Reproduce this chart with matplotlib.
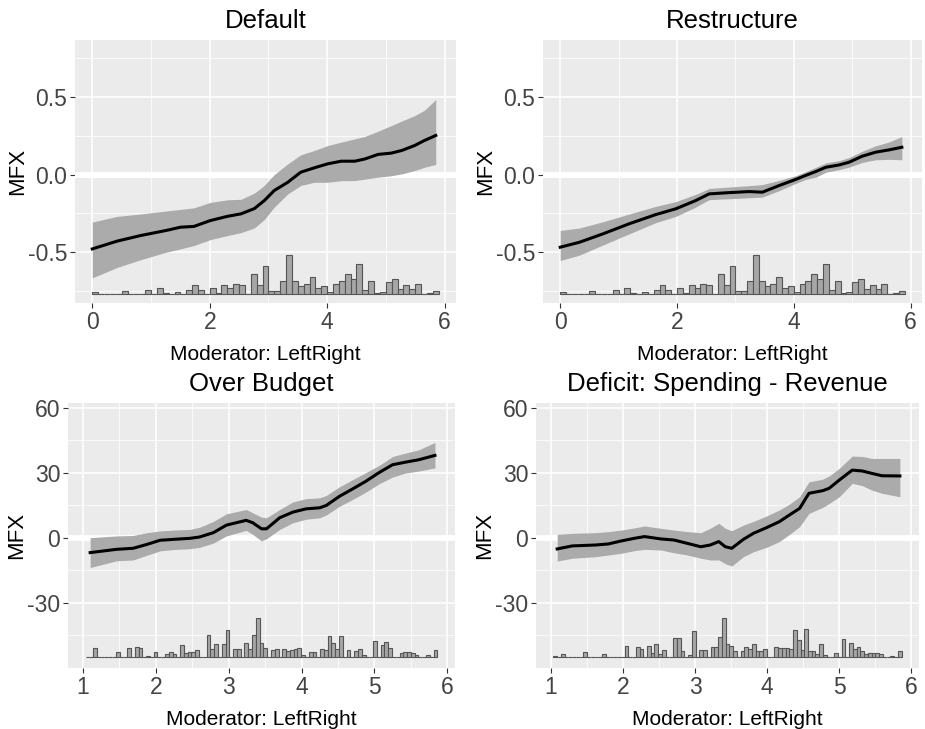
import matplotlib.pyplot as plt
import numpy as np

plt.rcParams['font.family'] = ['Liberation Sans', 'DejaVu Sans']
plt.rcParams['axes.unicode_minus'] = False

# ---------------- data ----------------
# Default
def_x = [0.0, 0.42, 0.82, 1.27, 1.5, 1.73, 2.01, 2.3, 2.53, 2.76, 2.93, 3.1, 3.33, 3.55,
         3.78, 4.01, 4.24, 4.47, 4.64, 4.87, 5.09, 5.27, 5.49, 5.66, 5.85]
def_mfx = [-0.48, -0.43, -0.394, -0.36, -0.34, -0.335, -0.297, -0.27, -0.254, -0.22, -0.168,
           -0.103, -0.05, 0.015, 0.043, 0.069, 0.086, 0.086, 0.10, 0.13, 0.138, 0.155, 0.187,
           0.22, 0.252]
def_hi = [-0.307, -0.27, -0.255, -0.235, -0.225, -0.215, -0.18, -0.163, -0.16, -0.12, -0.07,
          0.0, 0.069, 0.127, 0.155, 0.187, 0.209, 0.23, 0.245, 0.28, 0.315, 0.345, 0.38,
          0.415, 0.484]
def_lo = [-0.667, -0.60, -0.55, -0.50, -0.48, -0.458, -0.42, -0.394, -0.375, -0.345, -0.29,
          -0.21, -0.125, -0.071, -0.05, -0.05, -0.04, -0.039, -0.03, -0.017, -0.008, 0.004,
          0.026, 0.047, 0.065]

# Restructure
res_x = [0.0, 0.33, 0.73, 1.18, 1.64, 1.98, 2.32, 2.55, 2.84, 3.23, 3.46, 3.75, 4.03, 4.2,
         4.38, 4.55, 4.78, 4.95, 5.17, 5.4, 5.63, 5.85]
res_mfx = [-0.469, -0.437, -0.383, -0.318, -0.258, -0.221, -0.168, -0.125, -0.118, -0.11,
           -0.114, -0.071, -0.032, -0.006, 0.02, 0.047, 0.062, 0.08, 0.118, 0.144, 0.159, 0.176]
res_hi = [-0.361, -0.345, -0.305, -0.255, -0.205, -0.175, -0.128, -0.09, -0.082, -0.072,
          -0.065, -0.038, -0.008, 0.018, 0.047, 0.075, 0.09, 0.11, 0.15, 0.185, 0.21, 0.245]
res_lo = [-0.555, -0.52, -0.455, -0.383, -0.31, -0.27, -0.21, -0.162, -0.157, -0.15,
          -0.146, -0.104, -0.058, -0.032, -0.017, 0.015, 0.032, 0.048, 0.078, 0.095, 0.098, 0.095]

# Over Budget
ob_x = [1.1, 1.46, 1.69, 1.88, 2.06, 2.24, 2.47, 2.6, 2.79, 2.97, 3.24, 3.33, 3.45, 3.52,
        3.7, 3.88, 4.06, 4.25, 4.34, 4.52, 4.7, 4.88, 5.07, 5.25, 5.43, 5.61, 5.83]
ob_mfx = [-6.9, -5.4, -4.9, -3.1, -1.2, -0.8, -0.3, 0.3, 2.3, 5.8, 8.0, 6.9, 4.1, 4.1, 9.2,
          11.8, 13.3, 13.8, 14.9, 19.1, 22.5, 26.0, 30.2, 33.7, 34.9, 36.0, 38.0]
ob_hi = [0.0, 0.8, 1.0, 2.3, 3.1, 3.5, 3.8, 4.8, 7.5, 11.0, 13.0, 11.5, 9.5, 9.2, 13.0,
         16.5, 18.0, 18.4, 19.5, 23.5, 26.8, 30.0, 33.5, 37.5, 39.1, 40.6, 44.0]
ob_lo = [-13.8, -10.7, -10.3, -8.1, -6.1, -5.5, -5.1, -4.5, -2.5, 0.8, 3.4, 1.5, -1.5, -0.5,
         3.8, 6.9, 8.5, 9.2, 10.5, 14.5, 17.6, 21.0, 25.0, 28.0, 29.9, 30.8, 32.2]

# Deficit: Spending - Revenue
dv_x = [1.09, 1.3, 1.62, 1.8, 1.98, 2.16, 2.3, 2.53, 2.71, 2.89, 3.08, 3.21, 3.33, 3.42,
        3.51, 3.67, 3.81, 3.99, 4.17, 4.31, 4.45, 4.58, 4.77, 4.86, 5.0, 5.18, 5.32, 5.45,
        5.59, 5.84]
dv_mfx = [-5.2, -3.8, -3.4, -2.9, -1.5, -0.3, 0.5, -0.6, -1.1, -2.6, -4.2, -3.4, -1.8, -4.2,
          -4.9, -0.8, 2.0, 4.6, 7.4, 10.5, 13.5, 20.5, 21.7, 22.8, 26.6, 31.2, 30.8, 29.7,
          28.6, 28.5]
dv_hi = [1.5, 2.0, 2.3, 2.8, 3.5, 4.5, 5.4, 4.3, 3.5, 2.8, 2.3, 4.3, 6.6, 4.3, 3.2, 5.8, 7.5,
         10.0, 12.8, 15.5, 18.9, 25.8, 27.0, 28.5, 32.0, 37.7, 37.5, 36.6, 36.6, 36.6]
dv_lo = [-10.8, -9.5, -8.8, -8.0, -7.2, -6.0, -5.4, -5.7, -7.0, -8.0, -9.5, -10.3, -10.3,
         -12.0, -13.1, -8.8, -6.5, -4.5, -1.8, 1.5, 5.1, 11.2, 14.0, 15.8, 18.9, 25.1, 24.0,
         22.0, 20.5, 18.9]

# histogram of the moderator (counts in arbitrary units), top row
top_hist = [6, 0, 0, 0, 0, 8, 0, 0, 0, 10, 0, 15, 2, 0, 5, 0, 10, 25, 11, 0,
            15, 3, 25, 15, 29, 26, 0, 59, 25, 80, 8, 8, 36, 113, 38, 23, 29, 48, 16, 21,
            6, 29, 36, 57, 43, 86, 11, 36, 2, 5, 33, 43, 12, 26, 12, 29, 0, 2, 8]
top_bin_start = 0.0
top_bin_width = 0.1

# bottom row histograms
ob_hist = [0, 0, 24, 0, 0, 0, 0, 0, 14, 0, 0, 24, 0, 29, 26, 0, 3, 0, 13, 0,
           0, 8, 12, 8, 0, 35, 9, 13, 13, 20, 0, 0, 63, 21, 36, 0, 36, 78, 0, 21,
           21, 0, 41, 21, 63, 114, 40, 26, 0, 18, 22, 0, 22, 16, 20, 23, 26, 4, 0, 14,
           14, 0, 22, 18, 60, 39, 23, 60, 0, 18, 0, 16, 22, 4, 0, 0, 46, 0, 34, 44,
           26, 0, 0, 10, 13, 13, 10, 5, 0, 0, 5, 0, 19]
dv_hist = [2, 0, 8, 0, 0, 0, 0, 0, 14, 0, 0, 0, 0, 7, 0, 0, 0, 0, 0, 30,
           0, 0, 28, 22, 0, 32, 10, 38, 6, 18, 0, 0, 56, 54, 17, 0, 4, 75, 0, 19,
           19, 0, 27, 27, 57, 113, 38, 32, 17, 0, 15, 27, 22, 38, 15, 17, 22, 0, 0, 29,
           24, 24, 24, 22, 77, 48, 19, 82, 15, 15, 8, 38, 4, 0, 0, 11, 0, 53, 0, 41,
           22, 27, 15, 8, 10, 10, 10, 6, 0, 0, 3, 0, 17]
bot_bin_start = 1.037
bot_bin_width = 0.0519

titles = ["Default", "Restructure", "Over Budget", "Deficit: Spending - Revenue"]
xlabel = "Moderator: LeftRight"
ylabel = "MFX"

# ---------------- figure ----------------
W, H = 925, 729
fig = plt.figure(figsize=(W / 100, H / 100), dpi=100)


def panel(px0, py0, px1, py1):
    return fig.add_axes([px0 / W, 1 - py1 / H, (px1 - px0) / W, (py1 - py0) / H])


def draw(ax, x, mfx, lo, hi, hist, b0, bw, base, hmax, xlim, ylim,
         xmaj, xmin, ymaj, ymin, ylabs, title):
    ax.set_facecolor('#EBEBEB')
    for s in ax.spines.values():
        s.set_visible(False)
    ax.set_xlim(xlim)
    ax.set_ylim(ylim)
    ax.set_xticks(xmaj)
    ax.set_xticks(xmin, minor=True)
    ax.set_yticks(ymaj)
    ax.set_yticklabels(ylabs)
    ax.set_yticks(ymin, minor=True)
    ax.grid(which='major', color='white', lw=1.1, zorder=0)
    ax.grid(which='minor', color='white', lw=0.55, zorder=0)
    ax.set_axisbelow(True)
    ax.tick_params(which='major', length=3.5, width=0.8, color='#333333',
                   labelcolor='#444444', labelsize=16.5, pad=2)
    ax.tick_params(which='minor', length=0)

    ax.axhline(0, color='white', lw=4.2, zorder=1)
    ax.fill_between(x, lo, hi, color='#ABABAB', lw=0, zorder=2)
    ax.plot(x, mfx, color='black', lw=2.2, zorder=4)

    h = np.array(hist, dtype=float)
    edges = b0 + bw * np.arange(len(h))
    ax.bar(edges, h / h.max() * hmax, width=bw, bottom=base, align='edge',
           color='#A6A6A6', edgecolor='#555555', lw=0.8, zorder=3)

    ax.set_title(title, fontsize=18.5, pad=9)
    ax.set_xlabel(xlabel, fontsize=15, labelpad=8)
    ax.set_ylabel(ylabel, fontsize=16, labelpad=0)


top_ylim = (-0.829, 0.868)
bot_ylim = (-60.2, 62.2)

ax1 = panel(75, 40, 456, 303)
draw(ax1, def_x, def_mfx, def_lo, def_hi, top_hist, top_bin_start, top_bin_width,
     -0.768, 0.247, (-0.295, 6.195), top_ylim, [0, 2, 4, 6], [1, 3, 5],
     [-0.5, 0, 0.5], [-0.75, -0.25, 0.25, 0.75], ["-0.5", "0.0", "0.5"], titles[0])

ax2 = panel(543, 40, 922, 303)
draw(ax2, res_x, res_mfx, res_lo, res_hi, top_hist, top_bin_start, top_bin_width,
     -0.768, 0.247, (-0.295, 6.195), top_ylim, [0, 2, 4, 6], [1, 3, 5],
     [-0.5, 0, 0.5], [-0.75, -0.25, 0.25, 0.75], ["-0.5", "0.0", "0.5"], titles[1])

ax3 = panel(68, 403, 455, 668)
draw(ax3, ob_x, ob_mfx, ob_lo, ob_hi, ob_hist, bot_bin_start, bot_bin_width,
     -54.9, 17.7, (0.796, 6.105), bot_ylim, [1, 2, 3, 4, 5, 6],
     [1.5, 2.5, 3.5, 4.5, 5.5], [-30, 0, 30, 60], [-45, -15, 15, 45],
     ["-30", "0", "30", "60"], titles[2])

ax4 = panel(536, 403, 919, 668)
draw(ax4, dv_x, dv_mfx, dv_lo, dv_hi, dv_hist, bot_bin_start, bot_bin_width,
     -54.9, 17.7, (0.796, 6.105), bot_ylim, [1, 2, 3, 4, 5, 6],
     [1.5, 2.5, 3.5, 4.5, 5.5], [-30, 0, 30, 60], [-45, -15, 15, 45],
     ["-30", "0", "30", "60"], titles[3])

fig.savefig("out.png", dpi=100, facecolor='white')
